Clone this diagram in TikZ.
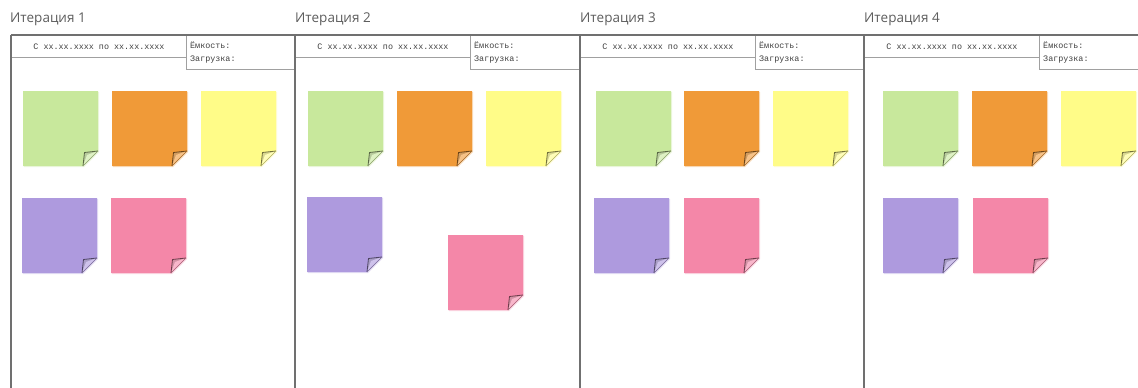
\documentclass[tikz,border=0pt]{standalone}
\usepackage{fontspec}
\setmainfont{Open Sans}
\newfontfamily\monof{Liberation Mono}
\definecolor{stgreen}{HTML}{C8E89C}
\definecolor{storange}{HTML}{F09A38}
\definecolor{styellow}{HTML}{FFFC88}
\definecolor{stpurple}{HTML}{AE9ADE}
\definecolor{stpink}{HTML}{F487A8}
\definecolor{colline}{HTML}{707070}
\definecolor{hdrline}{HTML}{A0A0A0}
\definecolor{titlegray}{HTML}{5E5E5E}
\definecolor{txtgray}{HTML}{404040}
\tikzset{
  colborder/.style={draw=colline, line width=1.8pt},
  hdrborder/.style={draw=hdrline, line width=0.9pt},
  titletext/.style={anchor=base west, inner sep=0pt, text=titlegray, font=\fontsize{13.5}{16}\selectfont},
  monotext/.style={inner sep=0pt, text=txtgray, font=\monof\fontsize{8.4}{10}\selectfont},
}
\newcommand\stickynote[3]{%
  \fill[#3!85!white, opacity=0.35] (#1+1,#2+1) -- ++(75,0) -- ++(0,60) -- ++(-15,15) -- ++(-60,0) -- cycle;
  \fill[#3] (#1,#2) -- ++(75,0) -- ++(0,60) -- ++(-15,15) -- ++(-60,0) -- cycle;
  \fill[#3!80!black!75!white] (#1+75,#2+60) .. controls (#1+68,#2+61) .. (#1+61.5,#2+61.5)
      .. controls (#1+61,#2+68) .. (#1+60,#2+75) -- cycle;
  \fill[#3!60!white] (#1+75,#2+60) .. controls (#1+69,#2+62.5) .. (#1+64,#2+64)
      .. controls (#1+62.5,#2+69) .. (#1+60,#2+75) -- cycle;
  \draw[#3!45!black, line width=0.8pt] (#1+60,#2+75) .. controls (#1+61,#2+68) .. (#1+61.5,#2+61.5)
      .. controls (#1+68,#2+61) .. (#1+75,#2+60);
  \draw[#3!70!black, line width=0.4pt] (#1+75,#2+60) -- (#1+60,#2+75);
}
\begin{document}
\begin{tikzpicture}[x=1pt,y=-1pt]
\useasboundingbox (0,0) rectangle (1138,388);
\fill[white] (0,0) rectangle (1138,388);
% header lines per column
\foreach \L/\R in {11/295, 295/580, 580/864, 864/1140}{
  \draw[hdrborder] (\L,57) -- (\L+175,57);
  \draw[hdrborder] (\L+175,35) -- (\L+175,69) -- (\R,69);
}
% column borders
\draw[colborder] (11,35) -- (1138,35);
\foreach \L in {11,295,580,864}{
  \draw[colborder] (\L,35) -- (\L,388);
}
% titles
\node[titletext] (t1) at (10,23) {Итерация 1};
\node[titletext] (t2) at (295,23) {Итерация 2};
\node[titletext] (t3) at (580,23) {Итерация 3};
\node[titletext] (t4) at (864,23) {Итерация 4};
% header texts
\foreach \L/\n in {11/1, 295/2, 580/3, 864/4}{
  \node[monotext, anchor=base] (d\n) at (\L+88,49.5) {С xx.xx.xxxx по xx.xx.xxxx};
  \node[monotext, anchor=base west] (e\n) at (\L+179,48.5) {Ёмкость:};
  \node[monotext, anchor=base west] (z\n) at (\L+179,61) {Загрузка:};
}
% column 1
\stickynote{23}{91}{stgreen}
\stickynote{112}{91}{storange}
\stickynote{201}{91}{styellow}
\stickynote{22}{198}{stpurple}
\stickynote{111}{198}{stpink}
% column 2
\stickynote{308}{91}{stgreen}
\stickynote{397}{91}{storange}
\stickynote{486}{91}{styellow}
\stickynote{307}{197}{stpurple}
\stickynote{448}{235}{stpink}
% column 3
\stickynote{596}{91}{stgreen}
\stickynote{684}{91}{storange}
\stickynote{773}{91}{styellow}
\stickynote{594}{198}{stpurple}
\stickynote{684}{198}{stpink}
% column 4
\stickynote{883}{91}{stgreen}
\stickynote{972}{91}{storange}
\stickynote{1061}{91}{styellow}
\stickynote{883}{198}{stpurple}
\stickynote{973}{198}{stpink}
\end{tikzpicture}
\end{document}
